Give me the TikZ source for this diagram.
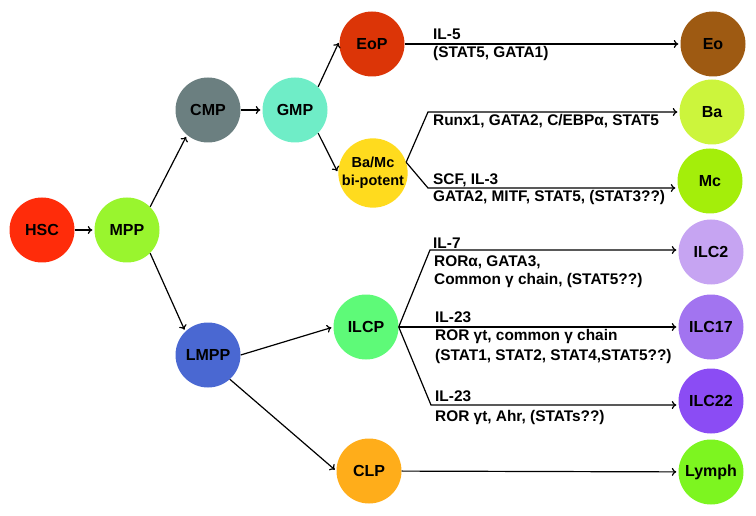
\documentclass[tikz,border=0pt]{standalone}
\usepackage{fontspec}
\setmainfont{Liberation Sans}
\usetikzlibrary{arrows.meta}
\definecolor{cHSC}{HTML}{FF2C0A}
\definecolor{cMPP}{HTML}{99F52E}
\definecolor{cCMP}{HTML}{6B7F80}
\definecolor{cGMP}{HTML}{6FEDC7}
\definecolor{cEoP}{HTML}{DC3507}
\definecolor{cBaMc}{HTML}{FFDB1E}
\definecolor{cEo}{HTML}{9E5A12}
\definecolor{cBa}{HTML}{CCF53C}
\definecolor{cMc}{HTML}{A4EE0A}
\definecolor{cILCa}{HTML}{C6A4F2}
\definecolor{cILCb}{HTML}{A274F0}
\definecolor{cILCc}{HTML}{8B4CF4}
\definecolor{cLymph}{HTML}{7DF520}
\definecolor{cLMPP}{HTML}{4A68D2}
\definecolor{cILCP}{HTML}{5EFA78}
\definecolor{cCLP}{HTML}{FFAD1A}
\begin{document}
\begin{tikzpicture}[x=1pt,y=-1pt,
  cell/.style={circle, minimum size=65pt, inner sep=0pt, text=black,
    font=\bfseries\fontsize{16}{18}\selectfont},
  lbl/.style={anchor=base west, inner sep=0pt,
    font=\bfseries\fontsize{15.4}{18}\selectfont},
  arr/.style={line width=1.2pt, -{To[length=4.5pt,width=8pt]}, shorten >=2pt}]
\useasboundingbox (0,0) rectangle (756,516);

% cells
\node[cell, fill=cHSC]  (HSC)  at (42,230)  {HSC};
\node[cell, fill=cMPP]  (MPP)  at (127,230) {MPP};
\node[cell, fill=cCMP]  (CMP)  at (208,110) {CMP};
\node[cell, fill=cGMP]  (GMP)  at (295,110) {GMP};
\node[cell, fill=cEoP]  (EoP)  at (372,44)  {EoP};
\node[cell, fill=cBaMc, align=center, font=\bfseries\fontsize{14.5}{17.5}\selectfont] (BaMc) at (373,173) {Ba/Mc\\bi-potent};
\node[cell, fill=cLMPP] (LMPP) at (208,355) {LMPP};
\node[cell, fill=cILCP] (ILCP) at (366,327) {ILCP};
\node[cell, fill=cCLP]  (CLP)  at (369,471) {CLP};
\node[cell, fill=cEo]   (Eo)   at (713,44)  {Eo};
\node[cell, fill=cBa]   (Ba)   at (712,112) {Ba};
\node[cell, fill=cMc]   (Mc)   at (710,181) {Mc};
\node[cell, fill=cILCa] (ILC2) at (711,252) {ILC2};
\node[cell, fill=cILCb] (ILC17) at (711,327) {ILC17};
\node[cell, fill=cILCc] (ILC22) at (711,401) {ILC22};
\node[cell, fill=cLymph] (Lymph) at (711,472) {Lymph};

% bend points
\coordinate (kBa) at (428,112);
\coordinate (kMc) at (428,188);
\coordinate (kILC2) at (430,250);
\coordinate (kILC22) at (431,405);

% connectors
\draw[arr] (HSC) -- (MPP);
\draw[arr] (MPP.45) -- (CMP.230);
\draw[arr] (MPP.-45) -- (LMPP.134);
\draw[arr] (CMP) -- (GMP);
\draw[arr] (GMP.45) -- (EoP.175);
\draw[arr] (GMP.-45) -- (BaMc.west);
\draw[arr] (EoP) -- (Eo);
\draw[arr] (BaMc.18) -- (kBa) -- (kBa -| Ba.west);
\draw[arr] (BaMc.18) -- (kMc) -- (kMc -| Mc.west);
\draw[arr] (LMPP.east) -- (ILCP.west);
\draw[arr] (LMPP.-48) -- (CLP.west);
\draw[arr] (ILCP.east) -- (kILC2) -- (kILC2 -| ILC2.west);
\draw[arr] (ILCP.east) -- (ILC17.west);
\draw[arr] (ILCP.east) -- (kILC22) -- (kILC22 -| ILC22.west);
\draw[arr] (CLP) -- (Lymph);

% labels
\node[lbl] (t1) at (433,40)  {IL-5};
\node[lbl] (t2) at (433,58)  {(STAT5, GATA1)};
\node[lbl] (t3) at (433,126) {Runx1, GATA2, C/EBPα, STAT5};
\node[lbl] (t4) at (433,185) {SCF, IL-3};
\node[lbl] (t5) at (433,202) {GATA2, MITF, STAT5, (STAT3??)};
\node[lbl] (t6) at (433,248) {IL-7};
\node[lbl] (t7) at (434,267) {RORα, GATA3,};
\node[lbl] (t8) at (434,284) {Common γ chain, (STAT5??)};
\node[lbl] (t9) at (435,322) {IL-23};
\node[lbl] (t10) at (435,341) {ROR γt, common γ chain};
\node[lbl] (t11) at (435,360) {(STAT1, STAT2, STAT4,STAT5??)};
\node[lbl] (t12) at (435,401) {IL-23};
\node[lbl] (t13) at (435,421) {ROR γt, Ahr, (STATs??)};
\end{tikzpicture}
\end{document}
